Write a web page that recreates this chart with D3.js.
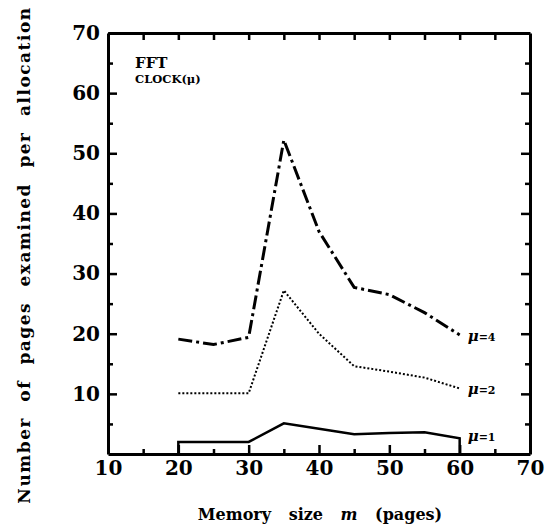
<!DOCTYPE html>
<html lang="en">
<head>
    <meta charset="UTF-8">
    <title>FFT CLOCK</title>
    <script src="https://d3js.org/d3.v7.min.js"></script>
    <style>
        body { margin: 0; background: #fff; }
        text { font-family: "DejaVu Serif", serif; font-weight: bold; fill: #000; }
        .domain { stroke: #000; stroke-width: 3; }
        .tick line { stroke: #000; stroke-width: 2.5; }
        .series { fill: none; stroke: #000; }
    </style>
</head>
<body>
<script>
    // values
    var sizes = [20, 25, 30, 35, 40, 45, 50, 55, 60];
    var mu4 = [19.1, 18.2, 19.4, 52.2, 37, 27.7, 26.5, 23.5, 19.8];
    var mu2 = [10.1, 10.1, 10.1, 27.2, 20, 14.6, 13.7, 12.7, 10.9];
    var mu1 = [2.0, 2.0, 2.0, 5.1, 4.2, 3.3, 3.5, 3.6, 2.6];
    var xTicks = [10, 20, 30, 40, 50, 60, 70];
    var yTicks = [10, 20, 30, 40, 50, 60, 70];
    var minorTicks = [5, 15, 25, 35, 45, 55, 65];

    var svg = d3.select("body").append("svg").attr("width", 551).attr("height", 530);

    var x = d3.scaleLinear().domain([10, 70]).range([108, 530]);
    var y = d3.scaleLinear().domain([0, 70]).range([454, 33]);

    // left axis with labels
    var left = svg.append("g").attr("transform", "translate(108,0)")
        .call(d3.axisLeft(y).tickValues(yTicks).tickSize(-9).tickPadding(8).tickSizeOuter(0));
    left.selectAll("text").style("font-size", "20px");
    svg.append("g").attr("transform", "translate(108,0)")
        .call(d3.axisLeft(y).tickValues(minorTicks).tickSize(-5).tickFormat("").tickSizeOuter(0))
        .select(".domain").remove();

    // bottom axis
    var bottom = svg.append("g").attr("transform", "translate(0,454)")
        .call(d3.axisBottom(x).tickValues(xTicks).tickSize(-9).tickPadding(7).tickSizeOuter(0));
    bottom.selectAll("text").style("font-size", "20px");
    svg.append("g").attr("transform", "translate(0,454)")
        .call(d3.axisBottom(x).tickValues(d3.range(15, 70, 5).filter(function (d) { return d % 10; })).tickSize(-5).tickFormat("").tickSizeOuter(0))
        .select(".domain").remove();

    // right and top axes
    svg.append("g").attr("transform", "translate(530,0)")
        .call(d3.axisRight(y).tickValues(yTicks.slice(0, 6)).tickSize(-9).tickFormat("").tickSizeOuter(0));
    svg.append("g").attr("transform", "translate(530,0)")
        .call(d3.axisRight(y).tickValues(minorTicks).tickSize(-5).tickFormat("").tickSizeOuter(0))
        .select(".domain").remove();
    svg.append("g").attr("transform", "translate(0,33)")
        .call(d3.axisTop(x).tickValues(d3.range(15, 70, 5)).tickSize(-7).tickFormat("").tickSizeOuter(0));

    var line = d3.line()
        .x(function (d) { return x(d[0]); })
        .y(function (d) { return y(d[1]); });

    var pts4 = sizes.map(function (s, i) { return [s, mu4[i]]; });
    var pts2 = sizes.map(function (s, i) { return [s, mu2[i]]; });
    var pts1 = [[20, 0]].concat(sizes.map(function (s, i) { return [s, mu1[i]]; })).concat([[60, 0]]);

    svg.append("path").attr("class", "series").attr("d", line(pts4))
        .attr("stroke-width", 3).attr("stroke-dasharray", "14,4,3,4");
    svg.append("path").attr("class", "series").attr("d", line(pts2))
        .attr("stroke-width", 2).attr("stroke-dasharray", "2,2");
    svg.append("path").attr("class", "series").attr("d", line(pts1))
        .attr("stroke-width", 2.5);

    // curve labels
    var labels = [["4", mu4[8], 0], ["2", mu2[8], 0], ["1", mu1[8], -3]];
    labels.forEach(function (l) {
        var t = svg.append("text").attr("x", x(60) + 8).attr("y", y(l[1]) + 6 + l[2])
            .style("font-size", "11px");
        t.append("tspan").style("font-style", "italic").style("font-size", "15px").text("μ");
        t.append("tspan").text("=" + l[0]);
    });

    svg.append("text").attr("x", 135).attr("y", 68).style("font-size", "15px").text("FFT");
    svg.append("text").attr("x", 135).attr("y", 83).style("font-size", "11.5px").text("CLOCK(μ)");

    // axis titles
    var xt = svg.append("text").attr("x", 320).attr("y", 520).attr("text-anchor", "middle")
        .style("font-size", "16px").attr("word-spacing", "12px");
    xt.append("tspan").text("Memory size ");
    xt.append("tspan").style("font-style", "italic").text("m");
    xt.append("tspan").text(" (pages)");

    svg.append("text").attr("transform", "translate(30,255) rotate(-90)").attr("text-anchor", "middle")
        .style("font-size", "17px").attr("word-spacing", "8px").attr("letter-spacing", "1.5px")
        .text("Number of pages examined per allocation");
</script>
</body>
</html>
